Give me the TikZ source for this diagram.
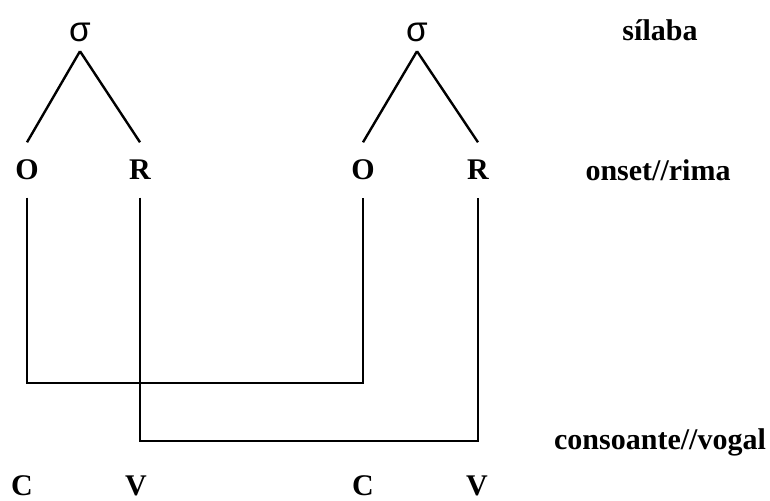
\documentclass[tikz,border=0pt]{standalone}
\usepackage{fontspec}
\setmainfont{Liberation Serif}
\newfontfamily\sigfont{Liberation Sans}
\usetikzlibrary{positioning}

\begin{document}
\begin{tikzpicture}[
      x=1pt,y=-1pt,
      sigNode/.style={font=\sigfont\fontsize{35}{35}\selectfont,
                      text height=18pt,text depth=0pt,inner xsep=0pt,inner ysep=9pt},
      unitNode/.style={font=\bfseries\fontsize{30}{30}\selectfont,
                       text height=19pt,text depth=0pt,inner xsep=0pt,inner ysep=18pt},
      segNode/.style={font=\bfseries\fontsize{30}{30}\selectfont,
                      anchor=base,inner sep=0pt},
      tierLabel/.style={font=\bfseries\fontsize{30}{30}\selectfont,inner sep=0pt},
      treeLine/.style={line width=2.4pt,black}
    ]
    \useasboundingbox (0,0) rectangle (770,500);

    % syllables
    \node(s1)[sigNode] at (80,33) {σ};
    \node(s2)[sigNode] at (417,33) {σ};

    % onset / rhyme
    \node(o1)[unitNode] at (27,170) {O};
    \node(r1)[unitNode] at (140,170) {R};
    \node(o2)[unitNode] at (363,170) {O};
    \node(r2)[unitNode] at (478,170) {R};

    % segments
    \node(c1)[segNode] at (22,495) {C};
    \node(v1)[segNode] at (136,495) {V};
    \node(c2)[segNode] at (363,495) {C};
    \node(v2)[segNode] at (477,495) {V};

    % tier names
    \node(tSil)[tierLabel] at (660,30) {sílaba};
    \node(tOR)[tierLabel] at (658,170) {onset//rima};
    \node(tCV)[tierLabel] at (660,442) {consoante//vogal};

    % branches
    \draw[treeLine] (s1.south) -- (o1.north);
    \draw[treeLine] (s1.south) -- (r1.north);
    \draw[treeLine] (s2.south) -- (o2.north);
    \draw[treeLine] (s2.south) -- (r2.north);

    % crossing links
    \draw[treeLine] (o1.south) -- ++(0,185) -| (o2.south);
    \draw[treeLine] (r1.south) -- ++(0,243) -| (r2.south);
  \end{tikzpicture}
\end{document}
